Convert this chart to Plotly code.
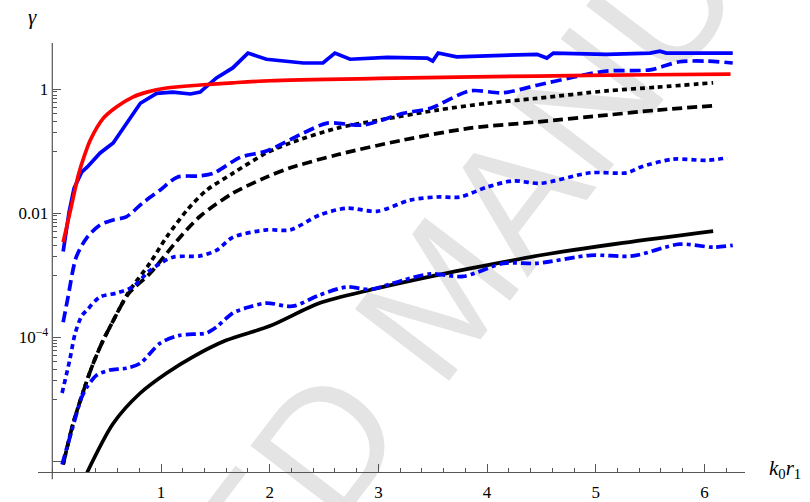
import plotly.graph_objects as go

# ---- data ----
red_x = [0.10, 0.14, 0.18, 0.24, 0.30, 0.35, 0.47, 0.59, 0.74, 0.87, 1.05, 1.36, 1.66, 2.0, 3.0, 4.46, 5.5, 6.24]
red_y = [3.39e-3, 6.9e-3, 0.0141, 0.041, 0.089, 0.151, 0.339, 0.513, 0.741, 0.891, 1.04, 1.16, 1.26, 1.36, 1.48, 1.62, 1.70, 1.74]

bsol_x = [0.10, 0.12, 0.155, 0.20, 0.27, 0.32, 0.44, 0.56, 0.68, 0.81, 0.96, 1.11, 1.27, 1.36, 1.51, 1.66, 1.80,
          1.97, 2.31, 2.49, 2.60, 2.74, 3.08, 3.45, 3.50, 3.55, 3.72, 4.15, 4.46, 4.55, 4.61, 5.10, 5.50, 5.59, 5.65, 6.26]
bsol_y = [2.4e-3, 3.98e-3, 0.0105, 0.0251, 0.0457, 0.055, 0.0933, 0.135, 0.282, 0.589, 0.851, 0.891, 0.832, 0.891,
          1.51, 2.19, 3.80, 3.02, 2.63, 2.63, 3.80, 3.02, 3.24, 3.16, 2.82, 3.80, 3.31, 3.55, 3.63, 3.16, 3.80, 3.63,
          3.80, 4.07, 3.80, 3.80]

bdash_x = [0.10, 0.145, 0.22, 0.32, 0.44, 0.56, 0.68, 0.83, 0.99, 1.15, 1.36, 1.48, 1.73, 1.97, 2.31, 2.53, 2.86,
           3.23, 3.48, 3.84, 4.15, 4.46, 4.79, 5.10, 5.50, 5.77, 6.02, 6.26]
bdash_y = [1.74e-4, 4.47e-4, 1.95e-3, 4.07e-3, 6.46e-3, 7.76e-3, 8.71e-3, 0.0145, 0.0234, 0.038, 0.0398, 0.0437,
           0.0794, 0.1, 0.195, 0.282, 0.263, 0.407, 0.49, 0.933, 0.871, 1.15, 1.55, 1.95, 2.04, 2.75, 2.82, 2.63]

bdot_x = [0.09, 0.16, 0.21, 0.27, 0.32, 0.44, 0.59, 0.74, 0.90, 1.11, 1.36, 1.51, 1.66, 1.97, 2.19, 2.46, 2.71,
          2.99, 3.29, 3.54, 3.75, 4.00, 4.24, 4.49, 4.95, 5.29, 5.41, 5.71, 6.02, 6.21]
bdot_y = [1.26e-5, 4.27e-5, 1.15e-4, 2.19e-4, 2.75e-4, 4.47e-4, 5.13e-4, 6.46e-4, 1.20e-3, 1.95e-3, 2.04e-3,
          2.51e-3, 4.07e-3, 5.37e-3, 5.37e-3, 9.33e-3, 0.012, 0.0107, 0.0162, 0.0182, 0.0182, 0.0263, 0.0331,
          0.0302, 0.0447, 0.0447, 0.055, 0.0741, 0.0708, 0.0776]

bdd_x = [0.09, 0.18, 0.27, 0.32, 0.41, 0.53, 0.68, 0.81, 0.99, 1.17, 1.42, 1.51, 1.66, 1.82, 1.97, 2.21, 2.46,
         2.71, 2.92, 3.23, 3.48, 3.78, 4.15, 4.46, 4.95, 5.34, 5.77, 6.08, 6.26]
bdd_y = [8.9e-7, 3.16e-6, 1.07e-5, 1.58e-5, 2.45e-5, 2.95e-5, 3.16e-5, 3.8e-5, 7.94e-5, 1.07e-4, 1.17e-4,
         1.45e-4, 2.45e-4, 3.09e-4, 3.55e-4, 3.16e-4, 4.79e-4, 6.46e-4, 5.89e-4, 8.32e-4, 1.05e-3, 9.55e-4,
         1.55e-3, 1.55e-3, 2.09e-3, 2.04e-3, 3.16e-3, 2.82e-3, 3.02e-3]

kdot_x = [0.10, 0.19, 0.28, 0.37, 0.46, 0.55, 0.70, 0.90, 1.05, 1.24, 1.42, 1.66, 1.97, 2.19, 2.62, 3.01, 3.54,
          4.00, 4.46, 5.10, 5.56, 6.08]
kdot_y = [8.9e-7, 3.98e-6, 1.26e-5, 3.55e-5, 8.32e-5, 1.70e-4, 5.25e-4, 1.58e-3, 4.07e-3, 0.0112, 0.0234,
          0.0437, 0.0933, 0.135, 0.234, 0.316, 0.457, 0.589, 0.708, 0.933, 1.07, 1.26]

kdash_x = [0.10, 0.19, 0.28, 0.37, 0.46, 0.55, 0.70, 0.90, 1.15, 1.36, 1.66, 1.97, 2.19, 2.62, 3.23, 3.84, 4.46,
           5.10, 5.56, 6.07]
kdash_y = [8.9e-7, 3.98e-6, 1.26e-5, 3.55e-5, 8.32e-5, 1.70e-4, 5.0e-4, 1.07e-3, 3.63e-3, 8.9e-3, 0.0209,
           0.038, 0.0537, 0.0871, 0.151, 0.234, 0.295, 0.38, 0.457, 0.537]

ksol_x = [0.32, 0.56, 0.81, 1.05, 1.29, 1.60, 2.00, 2.46, 2.92, 3.54, 4.15, 4.49, 5.25, 6.08]
ksol_y = [6.6e-7, 4.07e-6, 1.26e-5, 2.63e-5, 4.79e-5, 8.91e-5, 1.51e-4, 3.55e-4, 5.75e-4, 1.0e-3, 1.62e-3,
          2.09e-3, 3.31e-3, 5.13e-3]

x_ticks = [1, 2, 3, 4, 5, 6]
y_ticks = [1e-6, 1e-4, 1e-2, 1]
y_ticktext = ["", "10<sup>\u22124</sup>", "0.01", "1"]
y_minor = [m * 10.0 ** k for k in (-1, -3, -5) for m in range(1, 10)]

# ---- figure ----
W, H = 810, 502
L, R, T, B = 38, 65, 43, 30.3
LW = 3.7
SERIF = "Liberation Serif, Times New Roman, Times, serif"

fig = go.Figure()

def add(x, y, color, dash, shape="spline"):
    fig.add_trace(go.Scatter(x=x, y=y, mode="lines",
                             line=dict(color=color, width=LW, dash=dash, shape=shape, smoothing=0.8),
                             showlegend=False, hoverinfo="skip"))

add(ksol_x, ksol_y, "#000000", "solid")
add(kdash_x, kdash_y, "#000000", "10px,5px")
add(kdot_x, kdot_y, "#000000", "5px,4px")
add(bdd_x, bdd_y, "#0000ff", "10px,4px,4px,4px")
add(bdot_x, bdot_y, "#0000ff", "5px,4px")
add(bdash_x, bdash_y, "#0000ff", "11px,5px")
add(bsol_x, bsol_y, "#0000ff", "solid", shape="linear")
add(red_x, red_y, "#ff0000", "solid")

plot_w = W - L - R
plot_h = H - T - B
x0px = 52.3
ypos = (x0px - L) / plot_w

axcol = "#555555"
tickfont = dict(family=SERIF, size=17, color="black")

fig.update_layout(
    width=W, height=H,
    margin=dict(l=L, r=R, t=T, b=B, autoexpand=False),
    paper_bgcolor="white",
    plot_bgcolor="rgba(0,0,0,0)",
    xaxis=dict(range=[-0.1316, 6.373], showgrid=False, zeroline=False, automargin=False,
               showline=True, linecolor=axcol, linewidth=1.2,
               tickmode="array", tickvals=x_ticks, ticks="inside", ticklen=8,
               tickcolor=axcol, tickwidth=1.1, tickfont=tickfont, ticklabelstandoff=4,
               minor=dict(ticks="inside", ticklen=4, dtick=0.2, tick0=0, tickcolor=axcol, tickwidth=1.0)),
    yaxis=dict(type="log", range=[-6.173, 0.742], showgrid=False, zeroline=False, automargin=False,
               anchor="free", position=ypos,
               showline=False,
               tickmode="array", tickvals=y_ticks, ticktext=y_ticktext,
               ticks="inside", ticklen=8, tickcolor=axcol, tickwidth=1.1,
               tickfont=tickfont, ticklabelstandoff=4,
               minor=dict(ticks="inside", ticklen=4, tickmode="array", tickvals=y_minor,
                          tickcolor=axcol, tickwidth=1.0)),
)

# vertical axis line (extends slightly below the horizontal axis)
fig.add_shape(type="line", xref="x", yref="paper", x0=0, x1=0, y0=-(479 - (H - B)) / plot_h, y1=1,
              line=dict(color=axcol, width=1.2))

def pxp(px, py):
    return (px - L) / plot_w, ((H - B) - py) / plot_h

# watermark
cx, cy = 505, 345
dx, dy = 0.607 * 100, -0.795 * 100
ax0, ay0 = pxp(cx - dx, cy - dy)
ax1, ay1 = pxp(cx + dx, cy + dy)
fig.add_shape(type="line", xref="paper", yref="paper", x0=ax0, y0=ay0, x1=ax1, y1=ay1,
              layer="below", line=dict(color="rgba(0,0,0,0)", width=0),
              label=dict(text="ACCEPTED MANUSCRIPT", textposition="middle",
                         font=dict(family="Liberation Sans", size=172, color="#e4e4e4")))

# axis labels
gx, gy = pxp(32, 17)
fig.add_annotation(x=gx, y=gy, xref="paper", yref="paper", text="<i>γ</i>", showarrow=False,
                   xanchor="center", yanchor="middle",
                   font=dict(family=SERIF, size=21, color="black"))
kx, ky = pxp(785, 469)
fig.add_annotation(x=kx, y=ky, xref="paper", yref="paper",
                   text="<i>k</i><sub>0</sub><i>r</i><sub>1</sub>", showarrow=False,
                   xanchor="center", yanchor="middle",
                   font=dict(family=SERIF, size=21, color="black"))

fig.write_html("out.html", config={"displayModeBar": False},
               post_script="document.body.style.margin='0';document.body.style.padding='0';")
